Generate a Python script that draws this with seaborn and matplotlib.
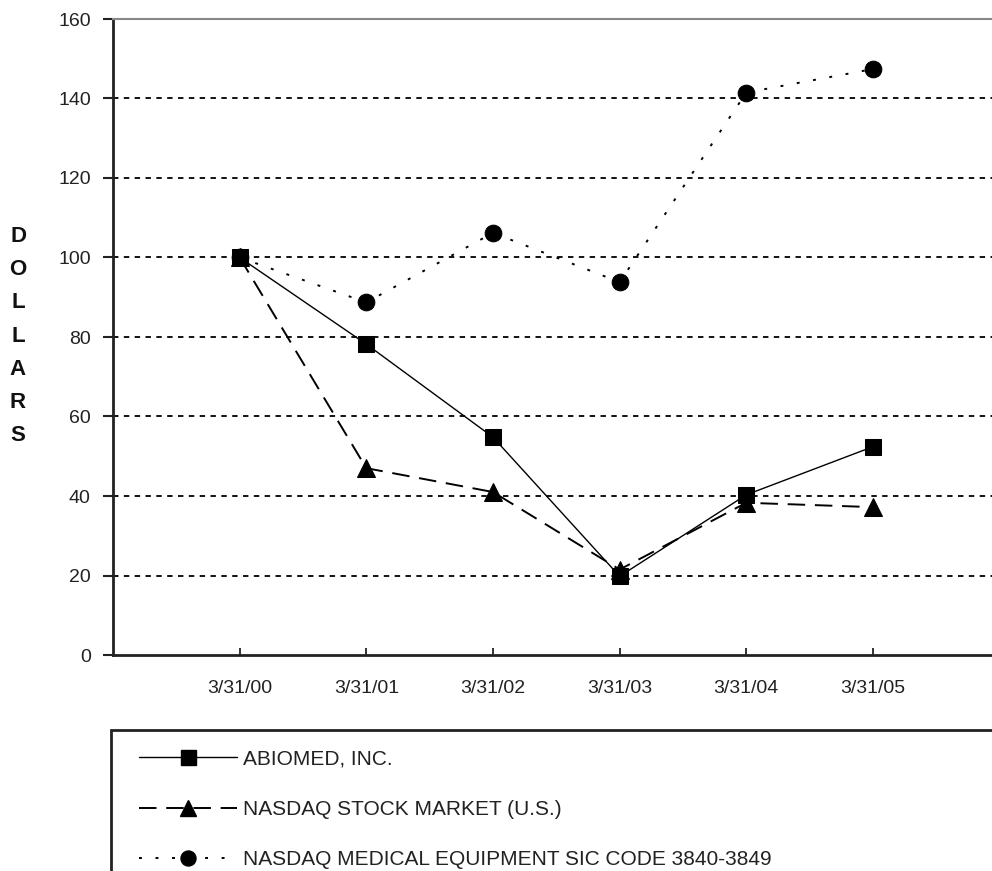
import matplotlib
matplotlib.use("Agg")
import matplotlib.pyplot as plt
import matplotlib.patches as mpatches
from matplotlib.lines import Line2D
import seaborn as sns
import pandas as pd

# values (index = 100)
dates = ['3/31/00', '3/31/01', '3/31/02', '3/31/03', '3/31/04', '3/31/05']
abiomed = [100, 78.2, 54.8, 19.8, 40.3, 52.4]
nasdaq_market = [100, 47.0, 41.0, 21.5, 38.3, 37.2]
nasdaq_medical = [100, 88.7, 106.2, 93.8, 141.5, 147.4]
series_names = ['ABIOMED, INC.', 'NASDAQ STOCK MARKET (U.S.)',
                'NASDAQ MEDICAL EQUIPMENT SIC CODE 3840-3849']

sns.set_theme(style='white')
plt.rcParams['font.family'] = ['Liberation Sans', 'DejaVu Sans']

W, H = 992, 871
fig = plt.figure(figsize=(W / 100, H / 100), dpi=100)
ax = fig.add_axes([113 / W, 1 - 655 / H, 1 - 113 / W, (655 - 19) / H])

x = list(range(len(dates)))
styles = [
    dict(data=abiomed, ls='-', lw=1.0, marker='s', ms=12),
    dict(data=nasdaq_market, ls=(0, (9, 5)), lw=1.4, marker='^', ms=13),
    dict(data=nasdaq_medical, ls=(0, (1.5, 7)), lw=1.4, marker='o', ms=12),
]
handles = []
for name, st in zip(series_names, styles):
    df = pd.DataFrame({'x': x, 'y': st['data']})
    sns.lineplot(data=df, x='x', y='y', ax=ax, color='black',
                 linestyle=st['ls'], linewidth=st['lw'],
                 marker=st['marker'], markersize=st['ms'],
                 markeredgecolor='black', markerfacecolor='black', zorder=3)
    handles.append(Line2D([], [], color='black', linestyle=st['ls'],
                          linewidth=st['lw'], marker=st['marker'],
                          markersize=st['ms'] * 0.9, markerfacecolor='black'))

ax.set_xlim(-1, 5.94)
ax.set_ylim(0, 160)
ax.set_yticks(range(0, 161, 20))
ax.set_xticks(x)
ax.set_xticklabels(dates)
ax.set_xlabel('')
ax.set_ylabel('')

for yv in range(20, 160, 20):
    ax.axhline(yv, color='black', linestyle=(0, (3, 3)), linewidth=1.3, zorder=1)

ax.spines['right'].set_visible(False)
ax.spines['top'].set_color('#888888')
ax.spines['top'].set_linewidth(1.5)
ax.spines['left'].set_color('#222222')
ax.spines['left'].set_linewidth(2)
ax.spines['bottom'].set_color('#222222')
ax.spines['bottom'].set_linewidth(2)

ax.tick_params(axis='y', direction='out', length=7, width=1.5, color='#222222',
               left=True, labelsize=14, labelcolor='#222222', pad=9)
ax.tick_params(axis='x', direction='in', length=5, width=1.3, color='#222222',
               bottom=True, labelsize=14, labelcolor='#222222', pad=18)

fig.text(18 / W, 1 - 336 / H, '\n'.join('DOLLARS'), fontsize=16,
         fontweight='bold', ha='center', va='center', linespacing=1.76,
         color='#111111')

# legend box (runs off the bottom/right edge as in the reference)
fig.patches.append(mpatches.Rectangle((111 / W, -0.05), 1.0, 1 - 730 / H + 0.05,
                                      transform=fig.transFigure, fill=False,
                                      edgecolor='#222222', linewidth=2))
fig.legend(handles, series_names, loc='upper left',
           bbox_to_anchor=(120 / W, 1 - 731 / H), frameon=False,
           handlelength=4.7, handletextpad=0.3, labelspacing=1.5,
           fontsize=15, labelcolor='#222222')

fig.savefig('out.png', dpi=100)
